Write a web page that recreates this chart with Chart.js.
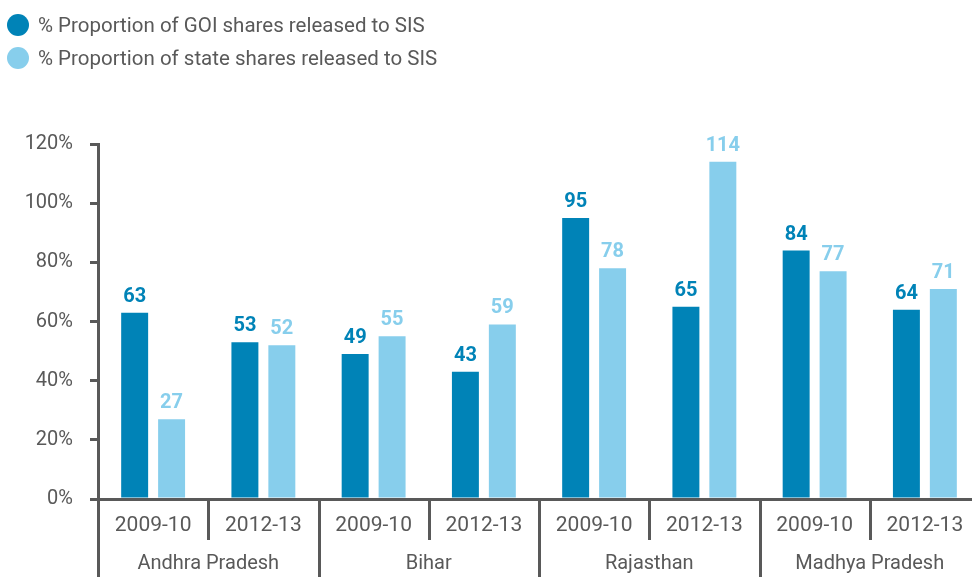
<!DOCTYPE html>
<html>
<head>
<meta charset="utf-8">
<script src="https://cdn.jsdelivr.net/npm/chart.js@4/dist/chart.umd.min.js"></script>
<style>
  html, body { margin: 0; padding: 0; background: #fff; }
  body { width: 972px; height: 577px; overflow: hidden; position: relative; font-family: Roboto, sans-serif; }
  #wrap { position: absolute; left: 0; top: 0; width: 990px; height: 577px; }
  .leg { position: absolute; left: 7px; height: 22px; line-height: 22px; font-size: 20.5px; color: #595959; white-space: nowrap; }
  .leg span.dot { display: inline-block; width: 22px; height: 22px; border-radius: 50%; vertical-align: top; margin-right: 9px; }
</style>
</head>
<body>
<div id="wrap"><canvas id="c" width="990" height="577"></canvas></div>
<div class="leg" style="top:14px"><span class="dot" style="background:#0083B7"></span>% Proportion of GOI shares released to SIS</div>
<div class="leg" style="top:47px"><span class="dot" style="background:#87CEEC"></span>% Proportion of state shares released to SIS</div>
<script>
const years = ["2009-10", "2012-13", "2009-10", "2012-13", "2009-10", "2012-13", "2009-10", "2012-13"];
const states = ["Andhra Pradesh", "Bihar", "Rajasthan", "Madhya Pradesh"];
const goiShares = [63, 53, 49, 43, 95, 65, 84, 64];
const stateShares = [27, 52, 55, 59, 78, 114, 77, 71];
const seriesNames = ["% Proportion of GOI shares released to SIS", "% Proportion of state shares released to SIS"];
const yTicks = [0, 20, 40, 60, 80, 100, 120];

const DARK = "#0083B7", LIGHT = "#87CEEC", GREY = "#595959";
const FONT = "Roboto";

const valueLabels = {
  id: "valueLabels",
  afterDatasetsDraw(chart) {
    const ctx = chart.ctx;
    ctx.save();
    ctx.font = "bold 20px " + FONT;
    ctx.textAlign = "center";
    ctx.textBaseline = "alphabetic";
    chart.data.datasets.forEach((ds, di) => {
      const meta = chart.getDatasetMeta(di);
      ctx.fillStyle = ds.backgroundColor;
      meta.data.forEach((bar, i) => {
        ctx.fillText(String(ds.data[i]), bar.x, bar.y - 11);
      });
    });
    ctx.restore();
  }
};

const separators = {
  id: "separators",
  afterDraw(chart) {
    const xs = chart.scales.x;
    const ctx = chart.ctx;
    const bottom = chart.chartArea.bottom;
    ctx.save();
    ctx.strokeStyle = GREY;
    ctx.lineWidth = 3;
    for (let i = 0; i <= years.length; i++) {
      const px = Math.round(xs.getPixelForValue(i - 0.5)) + 0.5;
      const end = (i % 2 === 0) ? chart.height : bottom + 41;
      ctx.beginPath();
      ctx.moveTo(px, bottom);
      ctx.lineTo(px, end);
      ctx.stroke();
    }
    ctx.restore();
  }
};

new Chart(document.getElementById("c"), {
  type: "bar",
  data: {
    labels: years,
    datasets: [
      { label: seriesNames[0], data: goiShares, backgroundColor: DARK, categoryPercentage: 0.67, barPercentage: 0.73 },
      { label: seriesNames[1], data: stateShares, backgroundColor: LIGHT, categoryPercentage: 0.67, barPercentage: 0.73 }
    ]
  },
  options: {
    responsive: false,
    animation: false,
    layout: { padding: { top: 144, right: 10, left: 0, bottom: 0 } },
    plugins: { legend: { display: false }, tooltip: { enabled: false } },
    scales: {
      x: {
        position: "bottom",
        offset: true,
        grid: { display: false, drawTicks: false },
        border: { display: true, color: GREY, width: 3 },
        ticks: { color: GREY, font: { family: FONT, size: 21 }, padding: 14, maxRotation: 0, autoSkip: false },
        afterFit(s) { s.height = 40; }
      },
      x2: {
        type: "category",
        position: "bottom",
        labels: states,
        offset: true,
        grid: { display: false, drawTicks: false },
        border: { display: false },
        ticks: { color: GREY, font: { family: FONT, size: 20 }, padding: 13, maxRotation: 0, autoSkip: false },
        afterFit(s) { s.height = 38; }
      },
      y: {
        min: 0, max: 120,
        afterBuildTicks(s) { s.ticks = yTicks.map(v => ({ value: v })); },
        grid: { drawOnChartArea: false, drawTicks: true, tickLength: 8, color: GREY, lineWidth: 3 },
        border: { display: true, color: GREY, width: 3 },
        ticks: { color: GREY, font: { family: FONT, size: 20 }, padding: 17, callback: v => v + "%" },
        afterFit(s) { s.width = 98; }
      }
    }
  },
  plugins: [valueLabels, separators]
});
</script>
</body>
</html>
